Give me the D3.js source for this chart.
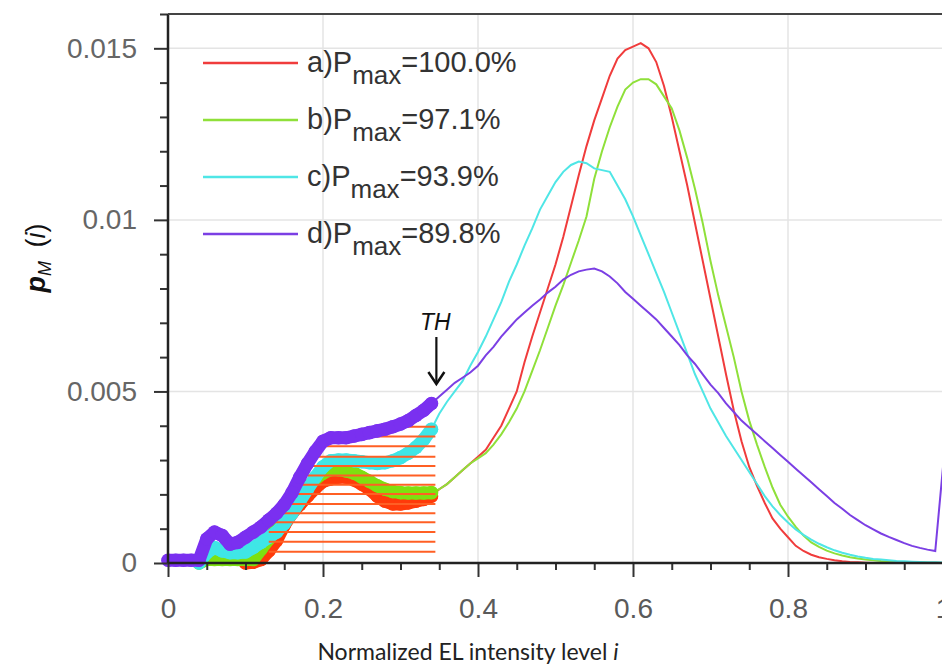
<!DOCTYPE html>
<html>
<head>
<meta charset="utf-8">
<script src="https://cdn.jsdelivr.net/npm/d3@7"></script>
<style>
  body { margin: 0; background: #fff; }
  svg { display: block; }
</style>
</head>
<body>
<div id="chart"></div>
<script>
// intensity levels i (0 .. 1, bins of 0.01)
var levels = d3.range(0, 101).map(function(k) { return k / 100; });

// p_M(i) values, in units of 1e-3
var pA = [0,0,0,0,0,0,0,0,0,0,
  0,0.02,0.1,0.35,0.65,1.1,1.45,1.7,1.95,2.18,
  2.38,2.45,2.5,2.5,2.42,2.3,2.15,1.95,1.8,1.72,
  1.72,1.75,1.8,1.85,1.95,2.15,2.3,2.5,2.7,2.9,
  3.1,3.3,3.65,4.0,4.5,5.0,5.85,6.6,7.3,8.0,
  8.7,9.5,10.4,11.3,12.15,12.9,13.55,14.2,14.7,14.95,
  15.05,15.15,15.0,14.6,13.9,13.0,12.0,11.0,9.9,8.8,
  7.7,6.6,5.5,4.45,3.55,2.8,2.25,1.75,1.3,1.0,
  0.75,0.5,0.35,0.24,0.17,0.12,0.08,0.05,0.03,0.02,
  0.01,0,0,0,0,0,0,0,0,0,0];
var pB = [0,0,0,0,0,0.1,0.1,0.1,0.1,0.1,
  0.1,0.1,0.4,0.7,1.0,1.3,1.6,1.9,2.2,2.45,
  2.62,2.72,2.72,2.68,2.62,2.5,2.38,2.25,2.15,2.08,
  2.05,2.04,2.04,2.04,2.05,2.15,2.3,2.5,2.7,2.9,
  3.05,3.2,3.45,3.75,4.1,4.5,5.0,5.6,6.2,6.85,
  7.5,8.1,8.75,9.4,10.1,11.2,12.0,12.7,13.3,13.8,
  14.0,14.1,14.1,13.95,13.6,13.25,12.6,11.8,10.9,9.9,
  8.8,7.8,6.9,6.0,5.0,4.15,3.45,2.8,2.2,1.7,
  1.35,1.05,0.8,0.6,0.47,0.36,0.28,0.22,0.17,0.13,
  0.1,0.08,0.06,0.05,0.04,0.03,0.02,0.02,0.01,0.01,0];
var pC = [0,0,0,0,0,0.3,0.45,0.35,0.3,0.3,
  0.32,0.45,0.6,0.75,0.9,1.15,1.45,1.8,2.15,2.5,
  2.8,2.98,3.0,3.0,2.98,2.95,2.92,2.9,2.92,2.98,
  3.07,3.2,3.37,3.6,3.9,4.35,4.7,5.0,5.3,5.75,
  6.15,6.6,7.1,7.6,8.2,8.7,9.25,9.75,10.3,10.7,
  11.1,11.4,11.6,11.7,11.65,11.5,11.45,11.4,11.0,10.6,
  10.1,9.55,9.0,8.45,7.9,7.3,6.7,6.1,5.5,5.0,
  4.5,4.1,3.7,3.35,3.0,2.65,2.3,1.95,1.65,1.4,
  1.18,0.98,0.82,0.68,0.56,0.46,0.37,0.3,0.24,0.19,
  0.15,0.12,0.1,0.08,0.06,0.05,0.04,0.03,0.02,0.02,0.01];
var pD = [0.08,0.08,0.08,0.08,0.08,0.7,0.9,0.8,0.55,0.6,
  0.75,0.9,1.05,1.25,1.45,1.7,2.05,2.5,2.9,3.25,
  3.55,3.65,3.65,3.65,3.7,3.75,3.8,3.85,3.9,3.97,
  4.05,4.15,4.3,4.45,4.65,4.85,5.05,5.25,5.4,5.55,
  5.75,6.05,6.3,6.6,6.85,7.1,7.3,7.5,7.68,7.88,
  8.05,8.26,8.4,8.5,8.55,8.58,8.5,8.35,8.15,7.9,
  7.7,7.5,7.3,7.1,6.85,6.6,6.35,6.05,5.8,5.5,
  5.2,4.95,4.65,4.4,4.15,3.95,3.75,3.55,3.35,3.15,
  2.95,2.75,2.55,2.35,2.15,1.95,1.75,1.58,1.4,1.25,
  1.1,0.98,0.86,0.76,0.67,0.58,0.5,0.44,0.39,0.35,2.8];

var seriesNames = ["a)P", "b)P", "c)P", "d)P"];
var seriesPmax = ["=100.0%", "=97.1%", "=93.9%", "=89.8%"];
var lineColors = ["#f03c3c", "#8fe03a", "#4fe6e6", "#7b3fe4"];
var markColors = ["#ff3a0a", "#7ee010", "#3fe6e6", "#7a30f0"];

var TH = 0.345;
// hatch levels under the threshold (1e-3 units)
var hatchLevels = [0.33, 0.62, 0.9, 1.19, 1.45, 1.72, 2.01, 2.28, 2.55, 2.83, 3.1, 3.4, 3.69, 3.97];

var xTickLabels = ["0", "0.2", "0.4", "0.6", "0.8", "1"];
var yTickLabels = ["0", "0.005", "0.01", "0.015"];

var margin = {top: 14, left: 168},
    width = 775,
    height = 549;

var svg = d3.select("#chart").append("svg")
    .attr("width", 942)
    .attr("height", 666)
    .style("font-family", "'Liberation Sans', Arial, sans-serif");

var g = svg.append("g")
    .attr("transform", "translate(" + margin.left + "," + margin.top + ")");

var x = d3.scaleLinear().domain([0, 1]).range([0, width]);
var y = d3.scaleLinear().domain([0, 16]).range([height, 0]);

// grid
g.append("g").selectAll("line")
    .data([0.2, 0.4, 0.6, 0.8])
    .enter().append("line")
    .attr("x1", function(d) { return x(d); })
    .attr("x2", function(d) { return x(d); })
    .attr("y1", 0).attr("y2", height)
    .attr("stroke", "#e4e4e4").attr("stroke-width", 1.5);
g.append("g").selectAll("line")
    .data([5, 10, 15])
    .enter().append("line")
    .attr("x1", 0).attr("x2", width)
    .attr("y1", function(d) { return y(d); })
    .attr("y2", function(d) { return y(d); })
    .attr("stroke", "#e4e4e4").attr("stroke-width", 1.5);

// thin lines
var line = d3.line()
    .x(function(d) { return x(d[0]); })
    .y(function(d) { return y(d[1]); });

var allSeries = [pA, pB, pC, pD];
allSeries.forEach(function(vals, k) {
  var pts = levels.map(function(l, i) { return [l, vals[i]]; });
  g.append("path")
      .datum(pts)
      .attr("fill", "none")
      .attr("stroke", lineColors[k])
      .attr("stroke-width", 2)
      .attr("d", line);
});

// first level where a series reaches a value
function crossing(vals, level) {
  for (var i = 0; i < levels.length; i++) {
    if (vals[i] >= level) return levels[i];
  }
  return TH;
}

// markers below threshold, starting just before the series leaves zero
function drawMarkers(k) {
  var vals = allSeries[k];
  var first = 0;
  while (first < vals.length - 1 && vals[first + 1] <= 0) first++;
  var pts = levels.map(function(l, i) { return [l, vals[i]]; })
      .filter(function(d, i) { return i >= first && d[0] <= TH; });
  g.append("path")
      .datum(pts)
      .attr("fill", "none")
      .attr("stroke", markColors[k])
      .attr("stroke-width", 13)
      .attr("stroke-linejoin", "round")
      .attr("stroke-linecap", "round")
      .attr("d", line);
  g.append("g").selectAll("circle")
      .data(pts)
      .enter().append("circle")
      .attr("cx", function(d) { return x(d[0]); })
      .attr("cy", function(d) { return y(d[1]); })
      .attr("r", 6.8)
      .attr("fill", markColors[k]);
}
drawMarkers(0);
drawMarkers(1);
drawMarkers(2);

// hatch: under d, right of the rise of a, up to TH
var hatchStartMin = crossing(pA, hatchLevels[0]);
g.append("g").selectAll("line")
    .data(hatchLevels)
    .enter().append("line")
    .attr("x1", function(d) { return x(Math.max(crossing(pD, d), hatchStartMin)); })
    .attr("x2", x(TH))
    .attr("y1", function(d) { return y(d); })
    .attr("y2", function(d) { return y(d); })
    .attr("stroke", "#ff5f24")
    .attr("stroke-width", 2);

drawMarkers(3);

// axes
var yMinor = d3.range(0, 17).filter(function(v) { return v % 5 !== 0; });
g.append("g")
    .call(d3.axisLeft(y).tickValues(yMinor).tickSize(8).tickFormat(""))
    .call(function(s) { s.select(".domain").remove(); s.selectAll("line").attr("stroke", "#333").attr("stroke-width", 2); });
g.append("g")
    .call(d3.axisLeft(y).tickValues([0, 5, 10, 15]).tickSize(14).tickPadding(17)
      .tickFormat(function(d, i) { return yTickLabels[i]; }))
    .call(function(s) {
      s.select(".domain").remove();
      s.selectAll("line").attr("stroke", "#333").attr("stroke-width", 2);
      s.selectAll("text").attr("fill", "#666").style("font-size", "28px")
        .style("font-family", "'Liberation Sans', Arial, sans-serif");
    });

var xMinor = d3.range(0, 21).filter(function(v) { return v % 4 !== 0; }).map(function(v) { return v / 20; });
g.append("g")
    .attr("transform", "translate(0," + height + ")")
    .call(d3.axisBottom(x).tickValues(xMinor).tickSize(7).tickFormat(""))
    .call(function(s) { s.select(".domain").remove(); s.selectAll("line").attr("stroke", "#333").attr("stroke-width", 2); });
g.append("g")
    .attr("transform", "translate(0," + height + ")")
    .call(d3.axisBottom(x).tickValues([0, 0.2, 0.4, 0.6, 0.8, 1]).tickSize(14).tickPadding(21)
      .tickFormat(function(d, i) { return xTickLabels[i]; }))
    .call(function(s) {
      s.select(".domain").remove();
      s.selectAll("line").attr("stroke", "#333").attr("stroke-width", 2);
      s.selectAll("text").attr("fill", "#5a5a5a").style("font-size", "28px")
        .style("font-family", "'Liberation Sans', Arial, sans-serif");
    });

// frame lines
g.append("line").attr("x1", 0).attr("x2", 0).attr("y1", 0).attr("y2", height)
    .attr("stroke", "#222").attr("stroke-width", 2.5);
g.append("line").attr("x1", 0).attr("x2", width).attr("y1", height).attr("y2", height)
    .attr("stroke", "#222").attr("stroke-width", 2.5);
g.append("line").attr("x1", 0).attr("x2", width).attr("y1", 0).attr("y2", 0)
    .attr("stroke", "#444").attr("stroke-width", 2);

// TH annotation
var thX = x(TH);
g.append("text")
    .attr("x", thX).attr("y", 316)
    .attr("text-anchor", "middle")
    .style("font-size", "23px").style("font-style", "italic")
    .attr("fill", "#111")
    .text("TH");
g.append("line")
    .attr("x1", thX + 1).attr("x2", thX + 1)
    .attr("y1", 323).attr("y2", 369)
    .attr("stroke", "#111").attr("stroke-width", 2.2);
g.append("path")
    .attr("d", "M" + (thX - 7) + ",358 L" + (thX + 1) + ",370 L" + (thX + 9) + ",358")
    .attr("fill", "none").attr("stroke", "#111").attr("stroke-width", 2.5);

// legend
var legend = g.append("g").attr("transform", "translate(35,0)");
seriesNames.forEach(function(name, k) {
  var ly = 49 + k * 57;
  legend.append("line")
      .attr("x1", 0).attr("x2", 95)
      .attr("y1", ly).attr("y2", ly)
      .attr("stroke", lineColors[k]).attr("stroke-width", 2.5);
  var t = legend.append("text")
      .attr("x", 104).attr("y", ly + 9)
      .attr("fill", "#333")
      .style("font-size", "29px");
  t.append("tspan").text(name);
  t.append("tspan").attr("dy", 12).style("font-size", "26px").text("max");
  t.append("tspan").attr("dy", -12).text(seriesPmax[k]);
});

// axis titles
var yl = svg.append("text")
    .attr("transform", "translate(45,258) rotate(-90)")
    .attr("text-anchor", "middle")
    .attr("fill", "#111")
    .style("font-size", "27px");
yl.append("tspan").style("font-style", "italic").style("font-weight", "bold").text("p");
yl.append("tspan").attr("dy", 6).style("font-style", "italic").style("font-size", "18px").text("M");
yl.append("tspan").attr("dy", -6).text("\u2002(");
yl.append("tspan").style("font-style", "italic").text("i");
yl.append("tspan").text(")");

var xl = svg.append("text")
    .attr("x", 468).attr("y", 660)
    .attr("text-anchor", "middle")
    .attr("fill", "#222")
    .style("font-family", "Lato, 'Open Sans', sans-serif")
    .style("font-size", "23px");
xl.append("tspan").text("Normalized EL intensity level ");
xl.append("tspan").style("font-style", "italic").text("i");
</script>
</body>
</html>
